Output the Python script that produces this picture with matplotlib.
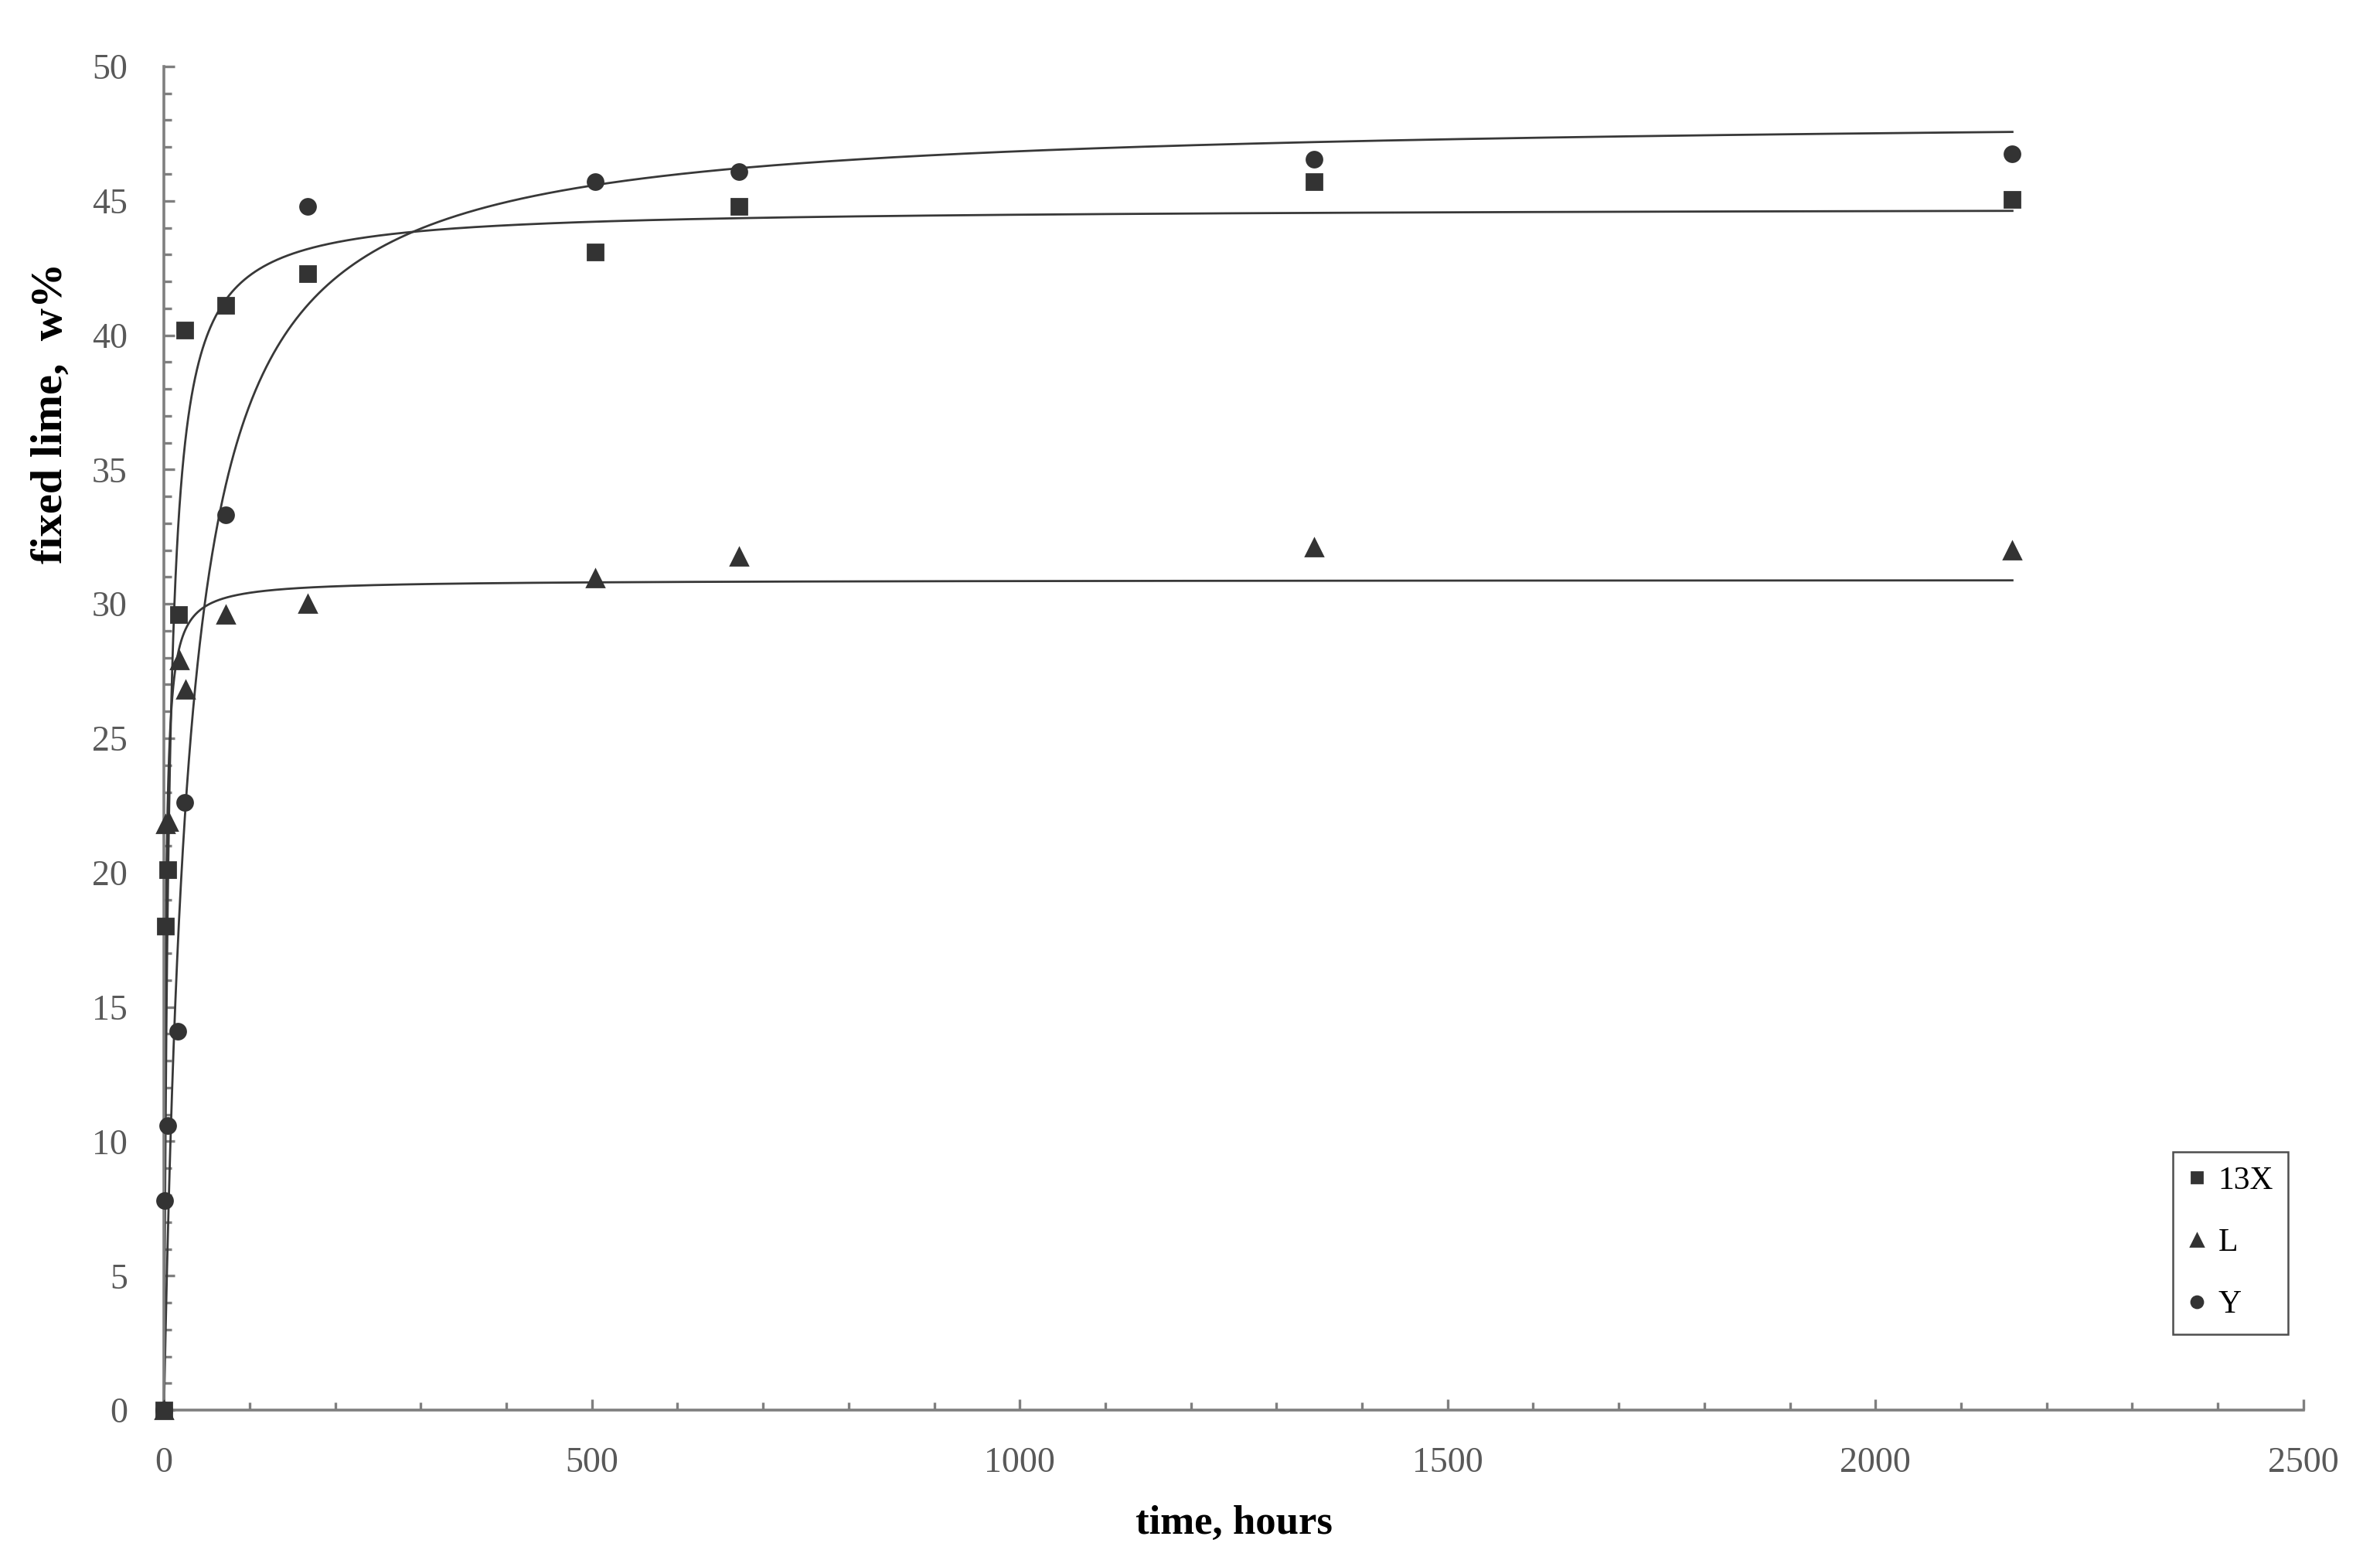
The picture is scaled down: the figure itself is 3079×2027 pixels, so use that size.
import numpy as np
import matplotlib
matplotlib.use("Agg")
import matplotlib.pyplot as plt
from matplotlib.ticker import MultipleLocator

# ---- data ----
time_13X = [0, 2, 4, 17, 24, 72, 168, 504, 672, 1344, 2160]
fixed_13X = [0, 18.0, 20.1, 29.6, 40.2, 41.1, 42.3, 43.1, 44.8, 45.7, 45.05]

time_L = [0, 2, 5, 18, 25, 72, 168, 504, 672, 1344, 2160]
fixed_L = [0, 21.8, 21.9, 27.9, 26.8, 29.6, 30.0, 30.95, 31.75, 32.1, 32.0]

time_Y = [0, 1, 4, 16, 24, 72, 168, 504, 672, 1344, 2160]
fixed_Y = [0, 7.8, 10.6, 14.1, 22.6, 33.3, 44.8, 45.7, 46.1, 46.55, 46.75]

# saturation trend lines y = a*t/(b+t), parameters
fit_13X = (44.75, 6.0)
fit_L = (30.9, 1.6)
fit_Y = (48.2, 28.9)
fit_end = 2160

x_ticks = [0, 500, 1000, 1500, 2000, 2500]
y_ticks = [0, 5, 10, 15, 20, 25, 30, 35, 40, 45, 50]

plt.rcParams['font.family'] = ['Liberation Serif', 'DejaVu Serif']

fig = plt.figure(figsize=(15.395, 10.135), dpi=200)
ax = fig.add_axes([0.0689, 0.1001, 0.8989, 0.8575])

mark_col = '#333333'
line_col = '#383838'

t = np.concatenate([np.linspace(0, 50, 1000), np.linspace(50, fit_end, 2000)])
for (a, b) in (fit_13X, fit_L, fit_Y):
    ax.plot(t, a * t / (b + t), color=line_col, lw=1.0, zorder=2, clip_on=False)

ax.plot(time_13X, fixed_13X, 's', color=mark_col, ms=7, label='13X', zorder=4, clip_on=False)
ax.plot(time_L, fixed_L, '^', color=mark_col, ms=8, label='L', zorder=4, clip_on=False)
ax.plot(time_Y, fixed_Y, 'o', color=mark_col, ms=7.2, label='Y', zorder=4, clip_on=False)

ax.set_xlim(0, 2500)
ax.set_ylim(0, 50)
ax.set_xticks(x_ticks)
ax.set_yticks(y_ticks)
ax.xaxis.set_minor_locator(MultipleLocator(100))
ax.yaxis.set_minor_locator(MultipleLocator(1))

axis_col = '#7f7f7f'
for s in ('top', 'right'):
    ax.spines[s].set_visible(False)
for s in ('left', 'bottom'):
    ax.spines[s].set_color(axis_col)
    ax.spines[s].set_linewidth(1.3)

ax.tick_params(which='major', direction='in', length=5, width=1.2, color=axis_col,
               labelsize=16.5, labelcolor='#595959', pad=17)
ax.tick_params(which='minor', direction='in', length=3.5, width=1.2, color=axis_col)

ax.set_xlabel('time, hours', fontsize=19, fontweight='bold', labelpad=12)
ax.set_ylabel('fixed lime,  w%', fontsize=21, fontweight='bold')
ax.yaxis.set_label_coords(-0.0435, 0.742)

leg = ax.legend(loc='lower left', bbox_to_anchor=(0.939, 0.0564), borderaxespad=0,
                frameon=True, fancybox=False, fontsize=15, handlelength=0.6,
                handletextpad=0.36, labelspacing=1.0, borderpad=0.45, markerscale=0.75)
leg.get_frame().set_edgecolor('#222222')
leg.get_frame().set_linewidth(0.9)

fig.savefig('out.png', dpi=200)
